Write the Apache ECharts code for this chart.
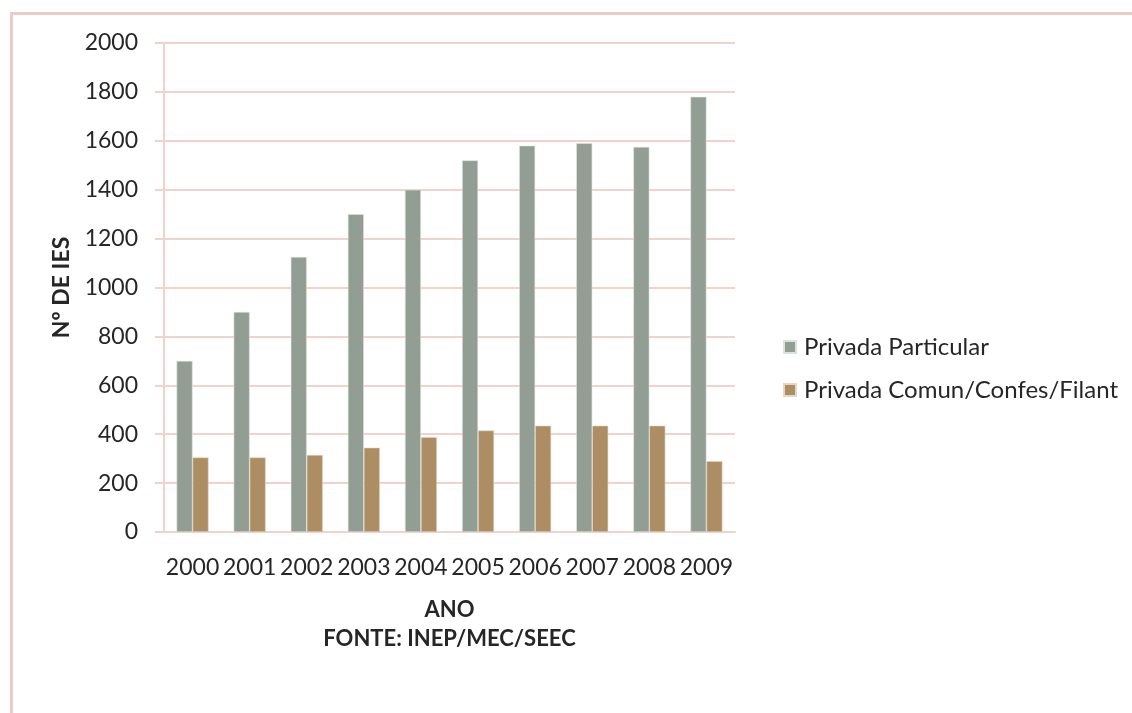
<!DOCTYPE html>
<html>
<head>
<meta charset="utf-8">
<script src="https://cdn.jsdelivr.net/npm/echarts@6/dist/echarts.min.js"></script>
<style>
html,body{margin:0;padding:0;background:#fff;}
#chart{width:1132px;height:713px;}
</style>
</head>
<body>
<div id="chart"></div>
<script>
const categories = ['2000','2001','2002','2003','2004','2005','2006','2007','2008','2009'];
const seriesNames = ['Privada Particular', 'Privada Comun/Confes/Filant'];
const particular = [700, 900, 1125, 1300, 1400, 1520, 1580, 1590, 1575, 1780];
const comun = [305, 305, 315, 345, 388, 415, 435, 435, 435, 290];
const yTicks = { min: 0, max: 2000, interval: 200 };

const FONT = 'Lato';
const TXT = '#262626';
const PINK = '#F1D2CC';

const chart = echarts.init(document.getElementById('chart'));
chart.setOption({
  animation: false,
  backgroundColor: '#fff',
  textStyle: { fontFamily: FONT, color: TXT },
  graphic: [{
    type: 'rect',
    shape: { x: 11.5, y: 13.5, width: 1300, height: 900 },
    style: { fill: 'none', stroke: '#EECBC4', lineWidth: 3 },
    silent: true
  }],
  grid: { left: 164, right: 397, top: 43, bottom: 181 },
  legend: {
    orient: 'vertical',
    left: 778,
    top: 330,
    itemWidth: 12,
    itemHeight: 12,
    itemGap: 19,
    icon: 'rect',
    textStyle: { fontFamily: FONT, fontSize: 24, color: TXT, padding: [0, 0, 0, 3] },
    data: seriesNames
  },
  xAxis: {
    type: 'category',
    data: categories,
    axisLine: { show: true, lineStyle: { color: PINK, width: 2 } },
    axisTick: { show: false },
    axisLabel: { fontFamily: FONT, fontSize: 23, color: TXT, margin: 24, interval: 0 },
    name: 'ANO\nFONTE: INEP/MEC/SEEC',
    nameLocation: 'middle',
    nameGap: 63,
    nameTextStyle: { fontFamily: FONT, fontSize: 22, fontWeight: 'bold', color: TXT, lineHeight: 29, verticalAlign: 'top' }
  },
  yAxis: {
    type: 'value',
    min: yTicks.min,
    max: yTicks.max,
    interval: yTicks.interval,
    axisLine: { show: true, lineStyle: { color: PINK, width: 2 } },
    axisTick: { show: true, length: 9, lineStyle: { color: PINK, width: 2 } },
    splitLine: { show: true, lineStyle: { color: PINK, width: 2 } },
    axisLabel: { fontFamily: FONT, fontSize: 23, color: TXT, margin: 26, formatter: v => String(v) },
    name: 'Nº DE IES',
    nameLocation: 'middle',
    nameGap: 91,
    nameTextStyle: { fontFamily: FONT, fontSize: 23, fontWeight: 'bold', color: TXT }
  },
  series: [
    {
      name: seriesNames[0],
      type: 'bar',
      data: particular,
      barWidth: 16,
      barGap: '0%',
      itemStyle: { color: '#929E93', borderColor: '#DCE2DC', borderWidth: 0.6 }
    },
    {
      name: seriesNames[1],
      type: 'bar',
      data: comun,
      barWidth: 16,
      barGap: '0%',
      itemStyle: { color: '#AC8D64', borderColor: '#E6D6C2', borderWidth: 0.6 }
    }
  ]
});
</script>
</body>
</html>
